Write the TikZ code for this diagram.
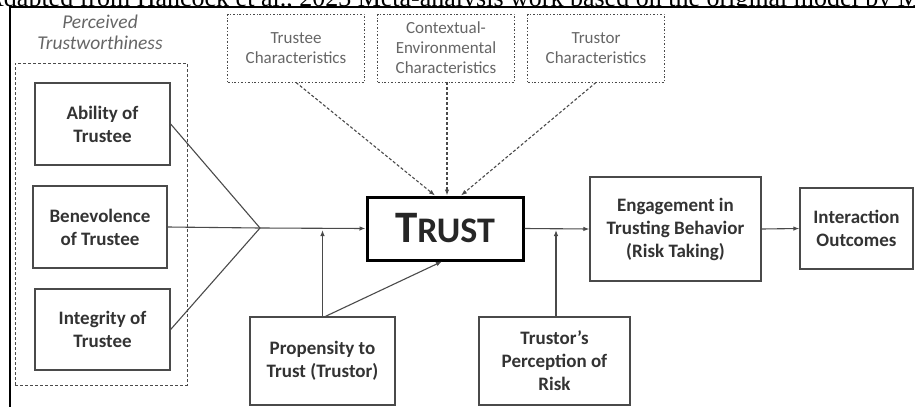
\documentclass[tikz,border=0pt]{standalone}
\usepackage{fontspec}
\setmainfont{Carlito}
\newfontfamily\capfont{Liberation Serif}
\usetikzlibrary{arrows.meta}
\definecolor{boxline}{HTML}{4A4A4A}
\definecolor{boxtext}{HTML}{333333}
\definecolor{softtext}{HTML}{666666}

\begin{document}
\begin{tikzpicture}[x=1pt, y=-1pt,
   factor/.style={draw=boxline, line width=1.3pt, fill=white, align=center,
     inner sep=0pt, font=\fontsize{19}{23}\selectfont\bfseries, text=boxtext},
   ctx/.style={draw=boxline, dash pattern=on 2pt off 2pt on 0.7pt off 2pt,
     line width=0.9pt, align=center, inner sep=0pt, minimum width=137pt,
     minimum height=68pt, font=\fontsize{17}{20}\selectfont, text=softtext},
   link/.style={draw=boxline, line width=1.1pt},
   tip/.style={link, -{Latex[length=6pt,width=4.5pt]}},
   hint/.style={tip, dash pattern=on 3pt off 2pt}]
    \useasboundingbox (0,0) rectangle (915,407);
    \begin{scope}
      \clip (0,0) rectangle (915,6);
      \node[anchor=base west, inner sep=0pt,
        font=\capfont\fontsize{26}{26}\selectfont] (capt) at (-15,6)
        {Adapted from Hancock et al., 2023 Meta-analysis work based on the original model by Mayer et al.};
    \end{scope}
    \draw[line width=2pt] (915,7) -| (10,407);

    \node[font=\fontsize{19.5}{21}\selectfont\itshape, text=softtext, align=center]
      (perc) at (100,32) {Perceived\\Trustworthiness};
    \node[draw=boxline, dash pattern=on 3pt off 2pt, line width=1pt, inner sep=0pt,
      minimum width=172pt, minimum height=322pt] (group) at (101,224) {};
    \node[factor, minimum width=135pt, minimum height=82pt] (abil) at (102.5,124) {Ability of\\Trustee};
    \node[factor, minimum width=134pt, minimum height=82pt] (bene) at (100,227) {Benevolence\\of Trustee};
    \node[factor, minimum width=135pt, minimum height=81pt] (integ) at (102.5,329.5) {Integrity of\\Trustee};
    \coordinate (join) at (260,228);

    \node[ctx] (tee) at (296,48) {Trustee\\Characteristics};
    \node[ctx] (env) at (446,48) {Contextual-\\Environmental\\Characteristics};
    \node[ctx] (tor) at (596,48) {Trustor\\Characteristics};

    \node[draw=black, line width=3pt, minimum width=156pt, minimum height=63pt,
      inner sep=0pt, font=\bfseries, text=black!85] (trust) at (445,228.5)
      {{\fontsize{45}{45}\selectfont T}{\fontsize{36}{36}\selectfont RUST}};

    \node[factor, minimum width=145pt, minimum height=88pt] (prop) at (322.5,361) {Propensity to\\Trust (Trustor)};
    \node[factor, minimum width=151pt, minimum height=88pt] (risk) at (554.5,361) {Trustor’s\\Perception of\\Risk};
    \node[factor, minimum width=171pt, minimum height=104pt] (engage) at (675.5,229) {Engagement in\\Trusting Behavior\\(Risk Taking)};
    \node[factor, minimum width=113pt, minimum height=81pt] (outc) at (856.5,228.5) {Interaction\\Outcomes};

    \draw[link] (abil.east) -- (join);
    \draw[link] (bene.east) -- (join);
    \draw[link] (integ.east) -- (join);
    \draw[tip] (join) -- (trust.west);
    \draw[hint] (tee.south) -- ([xshift=-10pt]trust.north);
    \draw[hint] ([xshift=1pt]env.south) -- ([xshift=2pt]trust.north);
    \draw[hint] (tor.south) -- ([xshift=16pt]trust.north);
    \draw[tip, shorten >=2pt] (prop.north) -- (prop.north |- join);
    \draw[tip] ([xshift=3pt]prop.north) -- ([xshift=-3pt]trust.south);
    \draw[tip, shorten >=2pt] ([xshift=1.5pt]risk.north) -- ([xshift=1.5pt]risk.north |- join);
    \draw[tip] (trust.east) -- (engage.west);
    \draw[tip] (engage.east) -- (outc.west);
\end{tikzpicture}
\end{document}
